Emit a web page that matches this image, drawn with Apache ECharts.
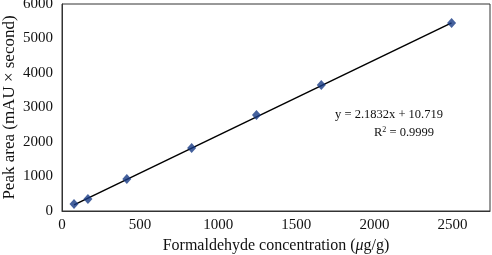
<!DOCTYPE html>
<html>
<head>
<meta charset="utf-8">
<script src="https://cdn.jsdelivr.net/npm/echarts@6/dist/echarts.min.js"></script>
<style>
    html, body { margin: 0; padding: 0; background: #fff; }
    #chart { width: 492px; height: 255px; }
</style>
</head>
<body>
<div id="chart"></div>
<script>
    // concentration (µg/g) and peak area
    const concentration = [77, 166, 415, 830, 1245, 1660, 2494]
    const peakArea = [200, 350, 928, 1826, 2780, 3652, 5449]
    // trend line end points
    const trendX = [77, 2494]
    const trendY = [179, 5455]
    const eqLines = ['y = 2.1832x + 10.719', 'R{sup|2} = 0.9999']

    const font = 'Liberation Serif'

    const option = {
        animation: false,
        textStyle: { fontFamily: font },
        grid: {
            left: 62, top: 4, right: 2, bottom: 44,
            containLabel: false,
            outerBoundsMode: 'none',
            show: true,
            borderColor: '#333',
            borderWidth: 1
        },
        xAxis: {
            type: 'value',
            min: 0,
            max: 2740,
            interval: 500,
            name: '{n|Formaldehyde concentration (}{i|μ}{n|g/g)}',
            nameLocation: 'middle',
            nameMoveOverlap: false,
            nameGap: 27,
            nameTextStyle: {
                fontFamily: font, fontSize: 16, color: '#111',
                rich: {
                    n: { fontFamily: font, fontSize: 16, color: '#111' },
                    i: { fontFamily: font, fontSize: 16, color: '#111', fontStyle: 'italic' }
                }
            },
            axisLine: { show: true, lineStyle: { color: '#333' } },
            axisTick: { show: false },
            splitLine: { show: false },
            axisLabel: {
                fontFamily: font, fontSize: 15, color: '#111', margin: 7, showMaxLabel: false,
                formatter: v => String(v)
            }
        },
        yAxis: {
            type: 'value',
            min: 0,
            max: 6000,
            interval: 1000,
            name: 'Peak area (mAU × second)',
            nameLocation: 'middle',
            nameMoveOverlap: false,
            nameGap: 44,
            nameTextStyle: { fontFamily: font, fontSize: 17, color: '#111' },
            axisLine: { show: true, lineStyle: { color: '#333' } },
            axisTick: { show: false },
            splitLine: { show: false },
            axisLabel: {
                fontFamily: font, fontSize: 15, color: '#111', margin: 9,
                formatter: v => String(v)
            }
        },
        graphic: [
            {
                type: 'text',
                x: 389, y: 115,
                style: {
                    text: eqLines[0], font: '12.5px "Liberation Serif"', fill: '#111',
                    align: 'center', verticalAlign: 'middle'
                }
            },
            {
                type: 'text',
                x: 404, y: 133,
                style: {
                    text: eqLines[1],
                    font: '12.5px "Liberation Serif"',
                    fill: '#111',
                    align: 'center', verticalAlign: 'middle',
                    rich: { sup: { fontSize: 8, verticalAlign: 'top', padding: [0, 0, 6, 0], fontFamily: font } }
                }
            }
        ],
        series: [
            {
                type: 'line',
                data: trendX.map((x, i) => [x, trendY[i]]),
                symbol: 'none',
                lineStyle: { color: '#000', width: 1.5 },
                z: 1
            },
            {
                type: 'scatter',
                data: concentration.map((x, i) => [x, peakArea[i]]),
                symbol: 'diamond',
                symbolSize: [9, 10],
                itemStyle: { color: '#173a85' },
                z: 2
            }
        ]
    }

    const chart = echarts.init(document.getElementById('chart'))
    chart.setOption(option)
</script>
</body>
</html>
